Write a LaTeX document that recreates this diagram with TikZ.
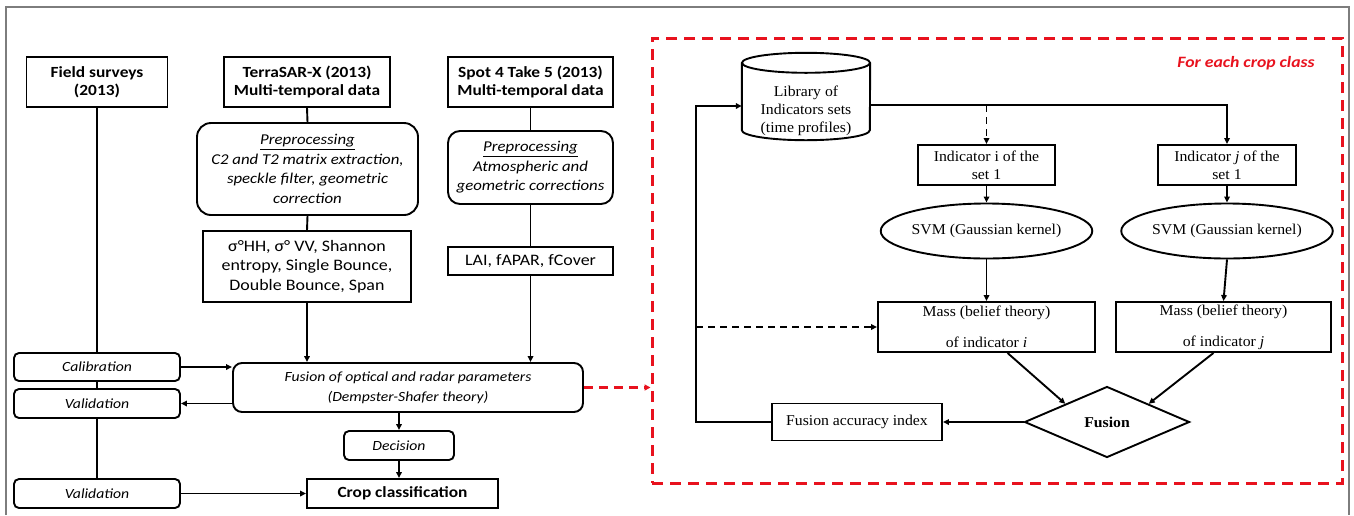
\documentclass[tikz,border=0pt]{standalone}
\usepackage{fontspec}
\setmainfont{Carlito}[FakeStretch=1.12]
\newfontfamily\tnr{Liberation Serif}[FakeStretch=1.05]
\usetikzlibrary{arrows.meta,shapes.geometric,calc}
\definecolor{redd}{RGB}{232,18,30}
\definecolor{framegray}{RGB}{125,125,125}
\begin{document}
\begin{tikzpicture}[x=1pt,y=-1pt,
  base/.style={draw,line width=1.9pt,inner sep=0pt,align=center,fill=white},
  sq/.style={base,rectangle},
  rd/.style={base,rounded corners=#1},
  rd/.default=6pt,
  bfont/.style={font=\bfseries\fontsize{15.5}{18}\selectfont},
  lfont/.style={font=\fontsize{16}{19.5}\selectfont},
  ifont/.style={font=\itshape\fontsize{15}{19.5}\selectfont},
  sfont/.style={font=\itshape\fontsize{14}{20}\selectfont},
  tfont/.style={font=\tnr\fontsize{15}{18}\selectfont},
  conn/.style={line width=1.9pt},
  arr/.style={conn,-{Triangle[length=6pt,width=5.5pt]}},
  darr/.style={arr,dash pattern=on 7pt off 5pt}]
\useasboundingbox (0,0) rectangle (1354,515);
\draw[framegray,line width=2pt] (6,515) -- (6,7) -- (1349,7) -- (1349,515);

% ---------- left part ----------
\node[sq,minimum width=141pt,minimum height=50pt,bfont] (field) at (97,82) {Field surveys\\(2013)};
\node[sq,minimum width=166pt,minimum height=50pt,bfont] (tsx) at (307,82) {TerraSAR-X (2013)\\Multi-temporal data};
\node[sq,minimum width=165pt,minimum height=50pt,bfont] (spot) at (530.5,82) {Spot 4 Take 5 (2013)\\Multi-temporal data};
\node[rd=14pt,minimum width=221pt,minimum height=92pt,ifont] (pre1) at (307.5,169) {\underline{Preprocessing}\\C2 and T2 matrix extraction,\\speckle filter, geometric\\correction};
\node[rd=12pt,minimum width=165pt,minimum height=73pt,ifont] (pre2) at (530.5,167.5) {\underline{Preprocessing}\\Atmospheric and\\geometric corrections};
\node[sq,minimum width=208pt,minimum height=71pt,lfont] (sig) at (307,266.5) {σ°HH, σ° VV, Shannon\\entropy, Single Bounce,\\Double Bounce, Span};
\node[sq,minimum width=165pt,minimum height=28pt,lfont] (lai) at (530.5,261) {LAI, fAPAR, fCover};
\node[rd=5pt,minimum width=166pt,minimum height=28pt,sfont] (cal) at (97,367) {Calibration};
\node[rd=5pt,minimum width=166pt,minimum height=29pt,sfont] (val1) at (97,403.5) {Validation};
\node[rd=9pt,minimum width=350pt,minimum height=49pt,sfont] (fus) at (408,387.5) {Fusion of optical and radar parameters\\(Dempster-Shafer theory)};
\node[rd=5pt,minimum width=110pt,minimum height=29pt,sfont] (dec) at (399,445.5) {Decision};
\node[sq,minimum width=191pt,minimum height=29pt,bfont] (crop) at (402.5,493.5) {Crop classification};
\node[rd=5pt,minimum width=166pt,minimum height=29pt,sfont] (val2) at (97,493.5) {Validation};

\draw[conn] (field.south) -- (cal.north);
\draw[conn] (cal.south) -- (val1.north);
\draw[conn] (val1.south) -- (val2.north);
\draw[conn] (tsx.south) -- (pre1.north);
\draw[conn] (pre1.south) -- (sig.north);
\draw[arr] (sig.south) -- (sig.south |- fus.north);
\draw[conn] (spot.south) -- (pre2.north);
\draw[conn] (pre2.south) -- (lai.north);
\draw[arr] (lai.south) -- (lai.south |- fus.north);
\draw[arr] (cal.east) -- (cal.east -| fus.west);
\draw[arr] (val1.east -| fus.west) -- (val1.east);
\draw[arr] (dec.north |- fus.south) -- (dec.north);
\draw[arr] (dec.south) -- (dec.south |- crop.north);
\draw[arr] (val2.east) -- (crop.west);

% ---------- right part ----------
\node[draw=redd,line width=3pt,dash pattern=on 11pt off 7pt,minimum width=690pt,minimum height=445pt,inner sep=0pt] (red) at (997,260.5) {};
\node[text=redd,font=\bfseries\itshape\fontsize{15.8}{19}\selectfont] (fecc) at (1246,63) {For each crop class};

\draw[redd,line width=3pt,dash pattern=on 9pt off 6pt,-{Triangle[length=6pt,width=6pt]}] (fus.east) -- (fus.east -| red.west);

% cylinder
\node[minimum width=128pt,minimum height=87pt,inner sep=0pt] (cyl) at (806,96.5) {};
\draw[conn,fill=white] ([yshift=-10pt]cyl.north west) -- ([yshift=10pt]cyl.south west)
  arc[start angle=180,end angle=360,x radius=64pt,y radius=10pt] -- ([yshift=-10pt]cyl.north east);
\draw[conn,fill=white] ([yshift=-10pt]cyl.north) ellipse [x radius=64pt,y radius=10pt];
\node[tfont,align=center,inner sep=0pt] (cyltxt) at (806,111) {Library of\\Indicators sets\\(time profiles)};

\node[sq,minimum width=137pt,minimum height=40pt,tfont] (indI) at (986.5,165) {Indicator i of the\\set 1};
\node[sq,minimum width=138pt,minimum height=40pt,tfont] (indJ) at (1227,165) {Indicator \textit{j} of the\\set 1};
\node[base,ellipse,minimum width=173pt,minimum height=55pt,tfont] (svmI) at (986.5,231) {SVM (Gaussian kernel)};
\node[base,ellipse,minimum width=173pt,minimum height=55pt,tfont] (svmJ) at (1227,231) {SVM (Gaussian kernel)};
\node[sq,minimum width=217pt,minimum height=50pt,tfont] (massI) at (986.5,327) {Mass (belief theory)\\[13pt]of indicator \textit{i}};
\node[sq,minimum width=215pt,minimum height=50pt,tfont] (massJ) at (1223.5,327) {Mass (belief theory)\\[13pt]of indicator \textit{j}};
\node[base,diamond,minimum width=165pt,minimum height=71pt,font=\tnr\bfseries\fontsize{15}{18}\selectfont] (fus2) at (1107,422) {Fusion};
\node[sq,minimum width=170pt,minimum height=37pt,tfont] (fai) at (857,422) {Fusion accuracy index};

\coordinate (cylout) at ([yshift=-8.5pt]cyl.east);
\coordinate (fb) at (696,106);
\draw[arr] (cylout) -| (indJ.north);
\draw[darr] (cylout -| indI.north) -- (indI.north);
\draw[arr] (indI.south) -- (svmI.north);
\draw[arr] (indJ.south) -- (svmJ.north);
\draw[arr] (svmI.south) -- (massI.north);
\draw[arr] (svmJ.south) -- (massJ.north);
\draw[arr] ([xshift=21pt]massI.south) -- (fus2.north west);
\draw[arr] ([xshift=-10pt]massJ.south) -- (fus2.north east);
\draw[arr] (fus2.west) -- (fai.east);
\draw[arr] (fai.west) -| (fb) -- (fb -| cyl.west);
\draw[darr] (fb |- massI.west) -- (massI.west);
\end{tikzpicture}
\end{document}
